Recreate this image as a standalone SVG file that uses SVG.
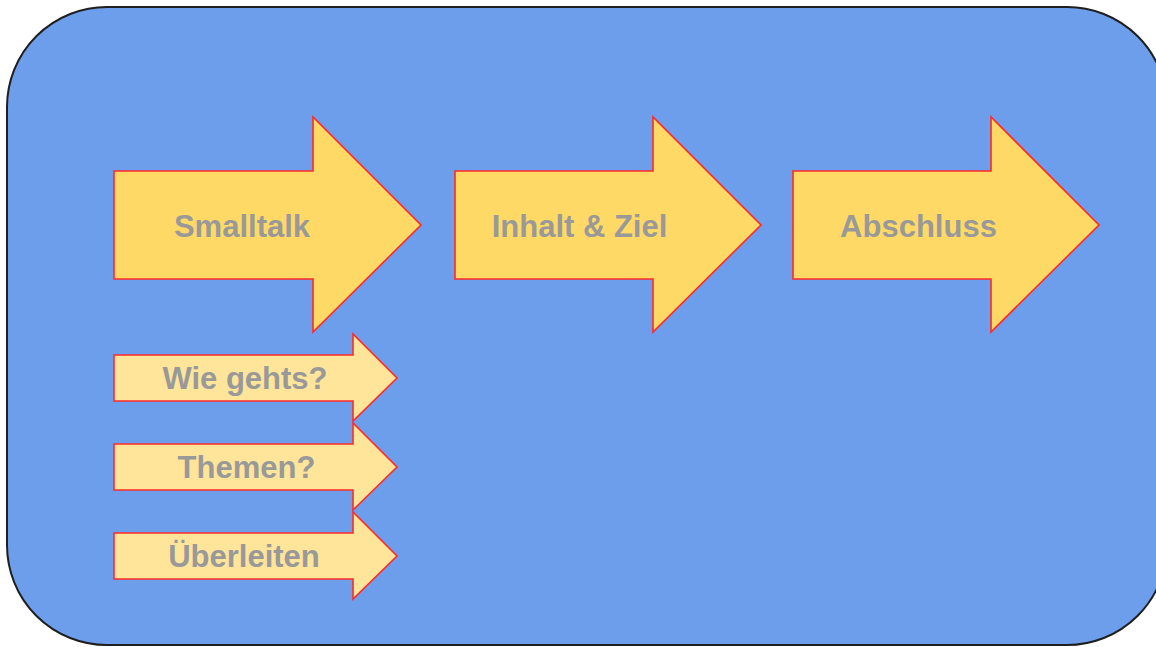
<svg xmlns="http://www.w3.org/2000/svg" width="1156" height="647" viewBox="0 0 1156 647">
<style>
.bg{fill:#6d9eeb;stroke:#1f1f1f;stroke-width:2}
.big{fill:#ffd966;stroke:#ff2a2a;stroke-width:1.6;stroke-linejoin:miter}
.small{fill:#ffe599;stroke:#ff2a2a;stroke-width:1.6;stroke-linejoin:miter}
.lbl{font-family:"Liberation Sans",Arial,sans-serif;font-weight:bold;font-size:31px;fill:#999999;text-anchor:middle}
</style>
<rect class="bg" x="7" y="7" width="1160" height="638" rx="100" ry="100"/>
<g id="connectors"></g>
<g id="smalltalk">
<polygon class="big" points="114,171 313,171 313,117 421,225 313,332 313,279 114,279"/>
<text class="lbl" x="242" y="237">Smalltalk</text>
</g>
<g id="inhalt">
<polygon class="big" points="455,171 653,171 653,117 761,225 653,332 653,279 455,279"/>
<text class="lbl" x="579.5" y="237">Inhalt &amp; Ziel</text>
</g>
<g id="abschluss">
<polygon class="big" points="793,171 991,171 991,117 1099,225 991,332 991,279 793,279"/>
<text class="lbl" x="918.5" y="237">Abschluss</text>
</g>
<g id="wie-gehts">
<polygon class="small" points="114,355 353,355 353,334 397,378 353,421 353,401 114,401"/>
<text class="lbl" x="245" y="389">Wie gehts?</text>
</g>
<g id="themen">
<polygon class="small" points="114,444 353,444 353,423 397,467 353,510 353,490 114,490"/>
<text class="lbl" x="246.5" y="478">Themen?</text>
</g>
<g id="ueberleiten">
<polygon class="small" points="114,533 353,533 353,512 397,556 353,599 353,579 114,579"/>
<text class="lbl" x="244" y="567">Überleiten</text>
</g>
</svg>
